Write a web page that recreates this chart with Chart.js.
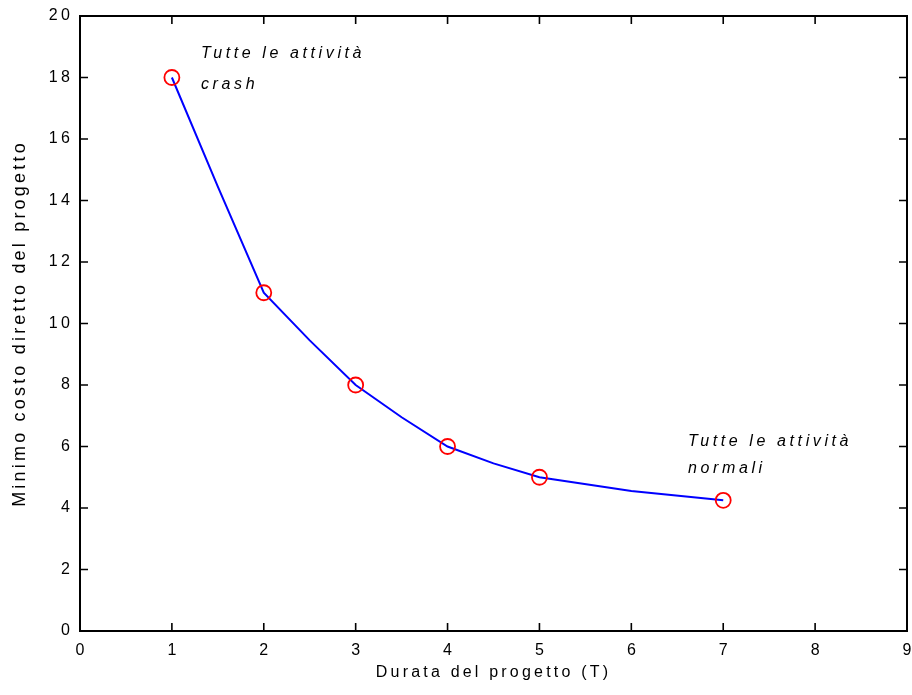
<!DOCTYPE html>
<html>
<head>
<meta charset="utf-8">
<script src="https://cdn.jsdelivr.net/npm/chart.js@4/dist/chart.umd.min.js"></script>
<style>
  html, body { margin: 0; padding: 0; background: #ffffff; }
  #wrap { width: 912px; height: 695px; }
</style>
</head>
<body>
<div id="wrap"><canvas id="c" width="912" height="695"></canvas></div>
<script>
// ---- data ----
const markerX = [1, 2, 3, 4, 5, 7];
const markerY = [18, 11, 8, 6, 5, 4.25];
const curveX = [1, 1.5, 2, 2.5, 3, 3.5, 4, 4.5, 5, 6, 7];
const curveY = [18, 14.45, 11, 9.45, 8, 6.95, 6, 5.45, 5, 4.55, 4.25];
const xTickValues = [0, 1, 2, 3, 4, 5, 6, 7, 8, 9];
const yTickValues = [0, 2, 4, 6, 8, 10, 12, 14, 16, 18, 20];
const xTitle = 'Durata del progetto (T)';
const yTitle = 'Minimo costo diretto del progetto';
const noteCrashLines = ['Tutte le attività', 'crash'];
const noteCrashPos = [1.317, 18.62, 17.62];
const noteNormalLines = ['Tutte le attività', 'normali'];
const noteNormalPos = [6.617, 6.02, 5.13];

const markerPoints = markerX.map((x, i) => ({ x: x, y: markerY[i] }));
const curvePoints = curveX.map((x, i) => ({ x: x, y: curveY[i] }));

const FONT = "'Liberation Sans', Arial, Helvetica, sans-serif";

const spacingPlugin = {
  id: 'spacing',
  beforeDraw(chart) {
    chart.ctx.letterSpacing = '3.2px';
  }
};

const framePlugin = {
  id: 'frame',
  afterDatasetsDraw(chart) {
    const ctx = chart.ctx;
    const a = chart.chartArea;
    const xs = chart.scales.x, ys = chart.scales.y;
    const len = 8;
    ctx.save();
    ctx.strokeStyle = '#000000';
    ctx.lineWidth = 1.6;
    ctx.beginPath();
    xTickValues.forEach(v => {
      const px = xs.getPixelForValue(v);
      ctx.moveTo(px, a.bottom); ctx.lineTo(px, a.bottom - len);
      ctx.moveTo(px, a.top); ctx.lineTo(px, a.top + len);
    });
    yTickValues.forEach(v => {
      const py = ys.getPixelForValue(v);
      ctx.moveTo(a.left, py); ctx.lineTo(a.left + len, py);
      ctx.moveTo(a.right, py); ctx.lineTo(a.right - len, py);
    });
    ctx.stroke();
    ctx.lineWidth = 2;
    ctx.strokeRect(a.left, a.top, a.right - a.left, a.bottom - a.top);
    ctx.restore();
  },
  afterDraw(chart) {
    const ctx = chart.ctx;
    const xs = chart.scales.x, ys = chart.scales.y;
    ctx.save();
    ctx.letterSpacing = '3.6px';
    ctx.font = 'italic 16px ' + FONT;
    ctx.fillStyle = '#000000';
    ctx.textAlign = 'left';
    ctx.textBaseline = 'alphabetic';
    const drawNote = (lines, pos) => {
      const px = xs.getPixelForValue(pos[0]);
      ctx.fillText(lines[0], px, ys.getPixelForValue(pos[1]));
      ctx.fillText(lines[1], px, ys.getPixelForValue(pos[2]));
    };
    drawNote(noteCrashLines, noteCrashPos);
    drawNote(noteNormalLines, noteNormalPos);
    ctx.restore();
  }
};

new Chart(document.getElementById('c'), {
  type: 'scatter',
  data: {
    datasets: [
      {
        label: 'punti',
        data: markerPoints,
        showLine: false,
        pointStyle: 'circle',
        pointRadius: 7.5,
        pointHoverRadius: 7.5,
        pointBorderWidth: 1.8,
        pointBorderColor: '#ff0000',
        pointBackgroundColor: 'rgba(0,0,0,0)'
      },
      {
        label: 'curva',
        data: curvePoints,
        showLine: true,
        borderColor: '#0000ff',
        borderWidth: 2,
        tension: 0,
        pointRadius: 0,
        pointHoverRadius: 0,
        fill: false
      }
    ]
  },
  options: {
    responsive: false,
    animation: false,
    events: [],
    layout: { autoPadding: false, padding: { top: 16, right: 5, left: 0, bottom: 0 } },
    plugins: {
      legend: { display: false },
      tooltip: { enabled: false },
      title: { display: false }
    },
    scales: {
      x: {
        type: 'linear',
        min: 0,
        max: 9,
        afterFit(scale) { scale.height = 64; scale.paddingLeft = 0; scale.paddingRight = 0; },
        afterBuildTicks(scale) { scale.ticks = xTickValues.map(v => ({ value: v })); },
        grid: { display: false, drawTicks: false },
        border: { display: false },
        ticks: {
          padding: 10,
          labelOffset: 1.6,
          color: '#000000',
          font: { family: FONT, size: 16 },
          maxRotation: 0,
          autoSkip: false
        },
        title: {
          display: true,
          text: xTitle,
          color: '#000000',
          font: { family: FONT, size: 16 },
          padding: { top: 0, bottom: 13 }
        }
      },
      y: {
        type: 'linear',
        min: 0,
        max: 20,
        afterFit(scale) { scale.width = 80; scale.paddingTop = 0; scale.paddingBottom = 0; },
        afterBuildTicks(scale) { scale.ticks = yTickValues.map(v => ({ value: v })); },
        grid: { display: false, drawTicks: false },
        border: { display: false },
        ticks: {
          padding: 7,
          color: '#000000',
          font: { family: FONT, size: 16 },
          autoSkip: false
        },
        title: {
          display: true,
          text: yTitle,
          color: '#000000',
          font: { family: FONT, size: 18 },
          padding: { top: 9, bottom: 0 }
        }
      }
    }
  },
  plugins: [spacingPlugin, framePlugin]
});
</script>
</body>
</html>
